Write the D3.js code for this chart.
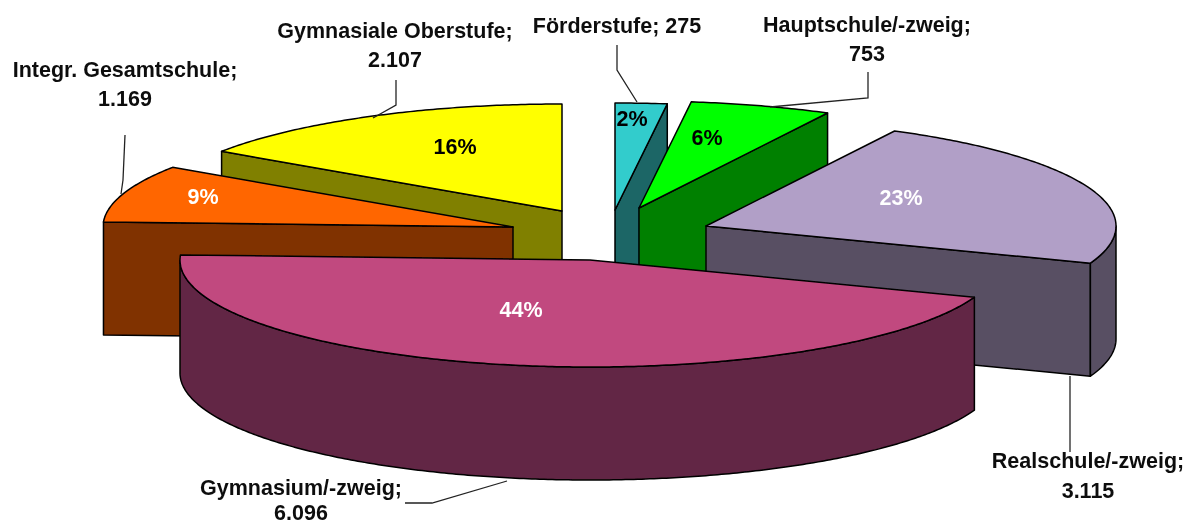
<!DOCTYPE html>
<html><head><meta charset="utf-8">
<script src="https://cdnjs.cloudflare.com/ajax/libs/d3/7.8.5/d3.min.js"></script>
<style>html,body{margin:0;padding:0;background:#fff}svg{display:block}text{font-family:"Liberation Sans",Arial,sans-serif;font-weight:bold}</style>
</head><body><svg id="c" width="1192" height="526"></svg>
<script>
const categories = ["Förderstufe","Hauptschule/-zweig","Realschule/-zweig","Gymnasium/-zweig","Integr. Gesamtschule","Gymnasiale Oberstufe"];
const values = [275,753,3115,6096,1169,2107];
const valueLabels = ["275","753","3.115","6.096","1.169","2.107"];
const percentLabels = ["2%","6%","23%","44%","9%","16%"];

// layout and style, kept apart from the data
const topColors  = ["#33CCCC","#00FF00","#B19FC7","#C1487F","#FF6600","#FFFF00"];
const sideColors = ["#1A6666","#008000","#595063","#622645","#803300","#808000"];
const percentColors = ["#000","#000","#fff","#fff","#fff","#000"];
const apexes = [[615,210],[639,208],[706,226],[590,260],[513,227],[562,211]];
const paintOrder = [5,4,0,1,2,3];
const percentPos = [[632,119],[707,138],[901,198],[521,310],[203,197],[455,147]];
const labelLines = [
  [[categories[0]+"; "+valueLabels[0],617,26]],
  [[categories[1]+";",867,25],[valueLabels[1],867,54]],
  [[categories[2]+";",1088,461],[valueLabels[2],1088,491]],
  [[categories[3]+";",301,488],[valueLabels[3],301,513]],
  [[categories[4]+";",125,70],[valueLabels[4],125,99]],
  [[categories[5]+";",395,31],[valueLabels[5],395,60]]
];
const leaders = [
  [[617,45],[617,70],[637,102]],
  [[868,72],[868,98],[770,107]],
  [[1070,376],[1070,452]],
  [[405,503],[432,503],[507,481]],
  [[125,135],[123,180],[121,194]],
  [[396,80],[396,105],[373,118]]
];
const rx = 410, ry = 107, depth = 113;

const px = d3.scaleLinear().domain([-1,1]).range([-rx,rx]);
const py = d3.scaleLinear().domain([-1,1]).range([-ry,ry]);
const pie = d3.pie().sort(null).startAngle(0).endAngle(2*Math.PI);
const arcs = pie(values);
const svg = d3.select("#c");
const defs = svg.append("defs");
defs.append("filter").attr("id","soft").attr("x","-2%").attr("y","-2%").attr("width","104%").attr("height","104%")
  .append("feGaussianBlur").attr("stdDeviation",0.5);
const root = svg.append("g").attr("filter","url(#soft)");
const line = d3.line();
const rimPt = (i,a,dz=0) => [apexes[i][0]+px(Math.sin(a)), apexes[i][1]+py(-Math.cos(a))+dz];
const sweep = (a0,a1) => { const n=Math.max(2,Math.ceil((a1-a0)/0.01)); return d3.range(n+1).map(k=>a0+(a1-a0)*k/n); };
const chart = root.append("g");

paintOrder.forEach(i=>{
  const {startAngle:a0,endAngle:a1} = arcs[i];
  const ap = apexes[i], apx=[ap[0],ap[1]], apb=[ap[0],ap[1]+depth];
  const g = chart.append("g").attr("stroke","#000").attr("stroke-width",1.5).attr("stroke-linejoin","round");
  const wall = a => g.append("path").attr("fill",sideColors[i])
      .attr("d",line([apx,rimPt(i,a),rimPt(i,a,depth),apb])+"Z");
  if (Math.sin(a1)>1e-6) wall(a1);
  if (Math.sin(a0)<-1e-6) wall(a0);
  const f0=Math.max(a0,Math.PI/2), f1=Math.min(a1,3*Math.PI/2);
  if (f1>f0){
    const pts=sweep(f0,f1);
    g.append("path").attr("fill",sideColors[i])
      .attr("d",line(pts.map(a=>rimPt(i,a)).concat(pts.slice().reverse().map(a=>rimPt(i,a,depth))))+"Z");
  }
  g.append("path").attr("fill",topColors[i])
    .attr("d",line([apx].concat(sweep(a0,a1).map(a=>rimPt(i,a))))+"Z");
});

root.append("g").selectAll("path").data(leaders).join("path")
  .attr("d",d=>line(d)).attr("fill","none").attr("stroke","#222").attr("stroke-width",1.3);

root.append("g").selectAll("text").data(percentLabels).join("text")
  .attr("x",(d,i)=>percentPos[i][0]).attr("y",(d,i)=>percentPos[i][1])
  .attr("text-anchor","middle").attr("dominant-baseline","central")
  .attr("font-size",21.5).attr("fill",(d,i)=>percentColors[i]).text(d=>d);

root.append("g").selectAll("text").data(labelLines.flat()).join("text")
  .attr("x",d=>d[1]).attr("y",d=>d[2])
  .attr("text-anchor","middle").attr("dominant-baseline","central")
  .attr("font-size",21.5).attr("fill","#111").text(d=>d[0]);
</script></body></html>
